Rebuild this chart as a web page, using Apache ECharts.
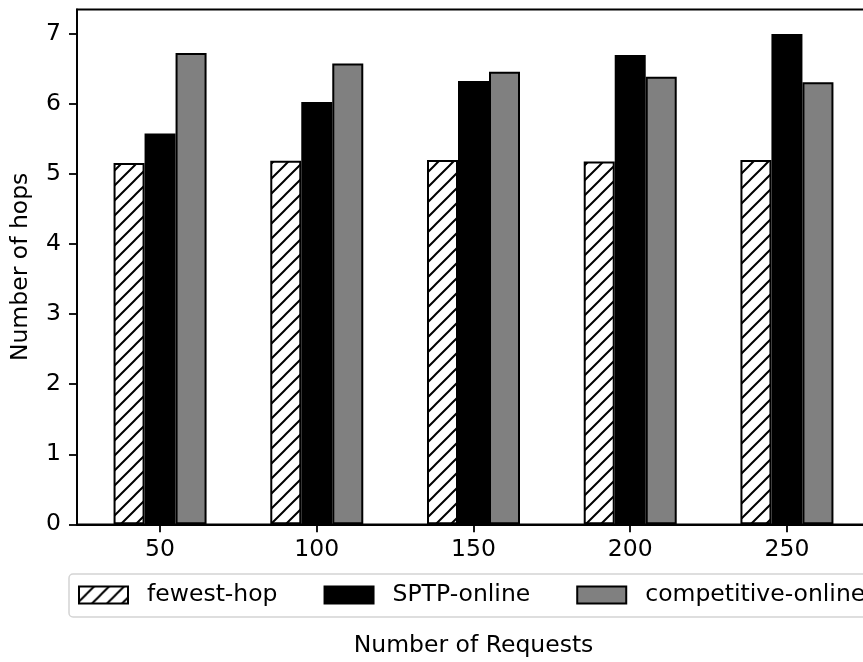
<!DOCTYPE html>
<html>
<head>
<meta charset="utf-8">
<script src="https://cdn.jsdelivr.net/npm/echarts@6/dist/echarts.min.js"></script>
<style>
html,body{margin:0;padding:0;background:#fff;}
#c{width:863px;height:662px;}
</style>
</head>
<body>
<div id="c"></div>
<script>
const categories = [50, 100, 150, 200, 250];
const fewestHop = [5.16, 5.19, 5.20, 5.18, 5.20];
const sptpOnline = [5.58, 6.03, 6.33, 6.70, 7.00];
const competitiveOnline = [6.73, 6.58, 6.46, 6.39, 6.31];
const yTicks = [0, 1, 2, 3, 4, 5, 6, 7];
const seriesNames = ['fewest-hop', 'SPTP-online', 'competitive-online'];

function hatch() {
  const s = 15;
  const cv = document.createElement('canvas');
  cv.width = s; cv.height = s;
  const ctx = cv.getContext('2d');
  ctx.fillStyle = '#fff';
  ctx.fillRect(0, 0, s, s);
  ctx.strokeStyle = '#000';
  ctx.lineWidth = 2;
  ctx.beginPath();
  ctx.moveTo(-2, s + 2); ctx.lineTo(s + 2, -2);
  ctx.moveTo(-2, 2); ctx.lineTo(2, -2);
  ctx.moveTo(s - 2, s + 2); ctx.lineTo(s + 2, s - 2);
  ctx.stroke();
  return {image: cv, repeat: 'repeat'};
}

const font = 'DejaVu Sans';
const fs = 23.5;
const pair = arr => categories.map((c, i) => [c, arr[i]]);

const chart = echarts.init(document.getElementById('c'), null, {renderer: 'canvas'});
chart.setOption({
  animation: false,
  backgroundColor: '#fff',
  textStyle: {fontFamily: font},
  grid: {left: 77, top: 9.5, width: 793, height: 514.8, outerBoundsMode: 'none', containLabel: false,
         show: true, borderColor: '#000', borderWidth: 1.8, backgroundColor: 'transparent'},
  legend: {
    left: 69, top: 574, width: 1200,
    padding: [9, 9, 10, 9],
    itemWidth: 49, itemHeight: 17, itemGap: 46,
    icon: 'rect',
    borderColor: '#d4d4d4', borderWidth: 1.5, borderRadius: 4,
    backgroundColor: '#fff',
    textStyle: {fontFamily: font, fontSize: fs, color: '#000', padding: [0, 0, 0, 14]},
    data: seriesNames
  },
  xAxis: {
    type: 'value', min: 23.5, max: 276.5,
    name: 'Number of Requests', nameLocation: 'middle', nameGap: 110,
    nameTextStyle: {fontFamily: font, fontSize: fs, color: '#000'},
    axisLine: {show: true, lineStyle: {color: '#000', width: 1.8}},
    axisTick: {show: true, length: 8, lineStyle: {color: '#000', width: 1.8}, customValues: categories},
    axisLabel: {fontFamily: font, fontSize: fs, color: '#000', margin: 14, customValues: categories},
    splitLine: {show: false}
  },
  yAxis: {
    type: 'value', min: 0, max: 7.35,
    name: 'Number of hops', nameLocation: 'middle', nameGap: 44, nameRotate: 90,
    nameTextStyle: {fontFamily: font, fontSize: fs, color: '#000'},
    axisLine: {show: true, lineStyle: {color: '#000', width: 1.8}},
    axisTick: {show: true, length: 8, lineStyle: {color: '#000', width: 1.8}, customValues: yTicks},
    axisLabel: {fontFamily: font, fontSize: fs, color: '#000', margin: 16, customValues: yTicks},
    splitLine: {show: false}
  },
  series: [
    {name: seriesNames[0], type: 'bar', barWidth: 31, barGap: '0%', data: pair(fewestHop),
     itemStyle: {color: hatch(), borderColor: '#000', borderWidth: 2}},
    {name: seriesNames[1], type: 'bar', barWidth: 31, barGap: '0%', data: pair(sptpOnline),
     itemStyle: {color: '#000', borderColor: '#000', borderWidth: 2}},
    {name: seriesNames[2], type: 'bar', barWidth: 31, barGap: '0%', data: pair(competitiveOnline),
     itemStyle: {color: '#808080', borderColor: '#000', borderWidth: 2}}
  ]
});
</script>
</body>
</html>
